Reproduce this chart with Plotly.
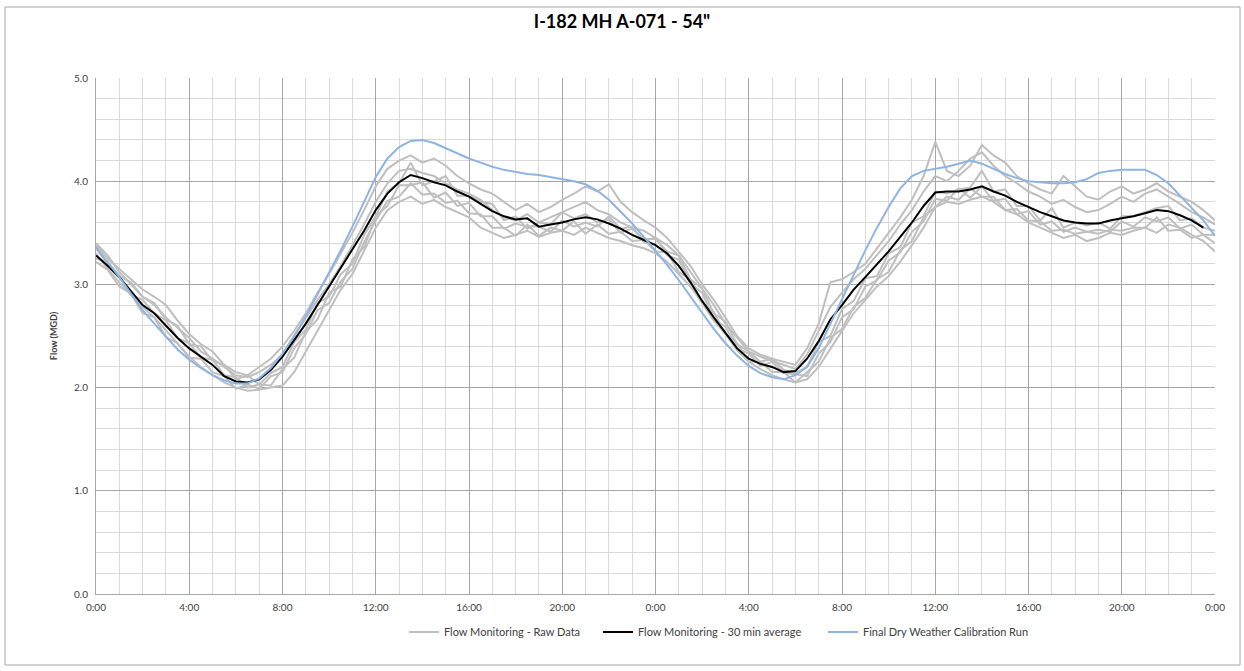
import plotly.graph_objects as go

# ---------------- data ----------------
hours_30 = [i * 0.5 for i in range(97)]          # 0:00 .. 48:00 every 30 min
tick_vals = [0, 4, 8, 12, 16, 20, 24, 28, 32, 36, 40, 44, 48]
tick_text = ["0:00", "4:00", "8:00", "12:00", "16:00", "20:00", "0:00",
             "4:00", "8:00", "12:00", "16:00", "20:00", "0:00"]

raw_a = [3.38, 3.25, 3.15, 3.05, 2.95, 2.88, 2.80, 2.65,
         2.52, 2.42, 2.35, 2.22, 2.15, 2.12, 2.20, 2.28,
         2.40, 2.55, 2.72, 2.92, 3.10, 3.30, 3.50, 3.72,
         3.95, 4.12, 4.20, 4.25, 4.18, 4.22, 4.15, 4.05,
         3.98, 3.92, 3.88, 3.80, 3.72, 3.78, 3.70, 3.75,
         3.82, 3.88, 3.95, 3.90, 3.97, 3.80, 3.70, 3.62,
         3.55, 3.45, 3.32, 3.18, 3.00, 2.85, 2.68, 2.50,
         2.38, 2.32, 2.28, 2.25, 2.22, 2.38, 2.62, 3.02,
         3.05, 3.12, 3.20, 3.35, 3.50, 3.65, 3.82, 4.05,
         4.38, 4.10, 4.05, 4.15, 4.35, 4.25, 4.18, 4.05,
         3.98, 3.92, 3.88, 4.05, 3.95, 3.85, 3.82, 3.90,
         3.95, 3.88, 3.92, 3.98, 3.90, 3.85, 3.80, 3.72,
         3.62]
raw_b = [3.30, 3.15, 3.02, 2.90, 2.78, 2.68, 2.55, 2.42,
         2.30, 2.20, 2.12, 2.05, 2.00, 1.97, 1.98, 2.00,
         2.02, 2.15, 2.35, 2.55, 2.75, 2.95, 3.10, 3.32,
         3.55, 3.72, 3.80, 3.85, 3.78, 3.82, 3.75, 3.70,
         3.65, 3.55, 3.50, 3.45, 3.48, 3.52, 3.46, 3.50,
         3.52, 3.48, 3.55, 3.50, 3.45, 3.42, 3.38, 3.35,
         3.30, 3.22, 3.10, 2.98, 2.82, 2.65, 2.52, 2.36,
         2.25, 2.18, 2.12, 2.08, 2.05, 2.08, 2.20, 2.38,
         2.55, 2.72, 2.85, 2.98, 3.08, 3.22, 3.38, 3.55,
         3.75, 3.80, 3.78, 3.82, 3.85, 3.80, 3.72, 3.68,
         3.60, 3.55, 3.50, 3.45, 3.48, 3.42, 3.45, 3.50,
         3.48, 3.52, 3.55, 3.50, 3.58, 3.55, 3.48, 3.42,
         3.32]
raw_c = [3.25, 3.22, 3.08, 3.02, 2.88, 2.82, 2.66, 2.60,
         2.42, 2.40, 2.26, 2.22, 2.08, 2.12, 2.03, 2.14,
         2.20, 2.44, 2.56, 2.82, 2.88, 3.10, 3.20, 3.48,
         3.66, 3.90, 3.98, 4.18, 3.96, 4.00, 4.05, 3.86,
         3.86, 3.80, 3.78, 3.62, 3.66, 3.54, 3.60, 3.58,
         3.70, 3.64, 3.68, 3.60, 3.63, 3.50, 3.54, 3.44,
         3.44, 3.32, 3.28, 3.05, 2.96, 2.72, 2.64, 2.42,
         2.35, 2.25, 2.28, 2.17, 2.14, 2.20, 2.44, 2.50,
         2.76, 2.84, 3.06, 3.08, 3.30, 3.36, 3.60, 3.66,
         3.90, 3.88, 3.92, 3.94, 4.10, 3.90, 3.92, 3.76,
         3.76, 3.62, 3.74, 3.55, 3.60, 3.57, 3.60, 3.54,
         3.66, 3.66, 3.70, 3.74, 3.76, 3.62, 3.64, 3.55,
         3.52]
raw_d = [3.35, 3.20, 3.08, 2.90, 2.85, 2.72, 2.65, 2.48,
         2.43, 2.29, 2.27, 2.12, 2.10, 2.00, 2.03, 2.02,
         2.18, 2.29, 2.54, 2.66, 2.92, 2.98, 3.24, 3.36,
         3.66, 3.76, 3.96, 3.96, 3.99, 3.84, 3.89, 3.76,
         3.79, 3.66, 3.66, 3.54, 3.59, 3.56, 3.56, 3.51,
         3.62, 3.56, 3.60, 3.56, 3.66, 3.54, 3.56, 3.41,
         3.46, 3.28, 3.24, 3.01, 2.92, 2.66, 2.59, 2.38,
         2.33, 2.21, 2.25, 2.14, 2.13, 2.11, 2.33, 2.44,
         2.68, 2.76, 2.98, 3.04, 3.23, 3.31, 3.51, 3.61,
         3.83, 3.81, 3.93, 3.84, 3.95, 3.81, 3.83, 3.68,
         3.71, 3.58, 3.61, 3.51, 3.55, 3.51, 3.53, 3.51,
         3.61, 3.56, 3.65, 3.61, 3.65, 3.54, 3.58, 3.48,
         3.48]
raw_e = [3.40, 3.28, 3.12, 3.00, 2.88, 2.80, 2.68, 2.58,
         2.48, 2.35, 2.28, 2.20, 2.12, 2.10, 2.15, 2.22,
         2.32, 2.50, 2.68, 2.85, 3.00, 3.18, 3.38, 3.58,
         3.80, 3.98, 4.10, 4.12, 4.08, 4.05, 3.98, 3.92,
         3.88, 3.82, 3.72, 3.65, 3.62, 3.68, 3.60, 3.65,
         3.70, 3.75, 3.80, 3.72, 3.68, 3.60, 3.55, 3.52,
         3.45, 3.38, 3.28, 3.12, 2.95, 2.80, 2.62, 2.48,
         2.35, 2.30, 2.26, 2.22, 2.18, 2.32, 2.55, 2.78,
         2.92, 3.05, 3.15, 3.28, 3.42, 3.58, 3.72, 3.90,
         4.05, 4.00, 4.10, 4.22, 4.28, 4.15, 4.05, 3.98,
         3.90, 3.85, 3.78, 3.82, 3.75, 3.70, 3.72, 3.78,
         3.85, 3.80, 3.88, 3.92, 3.85, 3.78, 3.70, 3.65,
         3.58]
raw_f = [3.22, 3.14, 2.98, 2.91, 2.72, 2.68, 2.49, 2.43,
         2.29, 2.28, 2.15, 2.11, 1.99, 2.03, 1.99, 2.11,
         2.15, 2.38, 2.52, 2.75, 2.82, 3.03, 3.15, 3.41,
         3.62, 3.81, 3.85, 3.98, 3.87, 3.88, 3.79, 3.81,
         3.69, 3.68, 3.55, 3.55, 3.47, 3.58, 3.47, 3.55,
         3.52, 3.61, 3.49, 3.58, 3.49, 3.51, 3.42, 3.43,
         3.32, 3.31, 3.12, 3.05, 2.82, 2.73, 2.52, 2.43,
         2.25, 2.25, 2.15, 2.15, 2.05, 2.15, 2.25, 2.48,
         2.57, 2.78, 2.87, 3.05, 3.12, 3.33, 3.42, 3.65,
         3.75, 3.85, 3.82, 3.93, 3.85, 3.85, 3.72, 3.73,
         3.62, 3.61, 3.52, 3.53, 3.49, 3.51, 3.49, 3.53,
         3.52, 3.55, 3.55, 3.65, 3.52, 3.53, 3.45, 3.48,
         3.40]
raw_series = [raw_a, raw_b, raw_c, raw_d, raw_e, raw_f]

avg_hours = [i * 0.5 for i in range(96)]          # 0:00 .. 47:30
avg_30min = [3.28, 3.18, 3.07, 2.94, 2.80, 2.72, 2.60, 2.48,
             2.38, 2.30, 2.22, 2.11, 2.06, 2.05, 2.08, 2.17,
             2.30, 2.46, 2.62, 2.80, 2.98, 3.15, 3.33, 3.52,
             3.72, 3.88, 3.99, 4.06, 4.03, 3.99, 3.96, 3.90,
             3.85, 3.78, 3.71, 3.66, 3.63, 3.64, 3.56, 3.58,
             3.60, 3.63, 3.65, 3.63, 3.59, 3.54, 3.48, 3.43,
             3.38, 3.30, 3.18, 3.02, 2.84, 2.68, 2.53, 2.38,
             2.28, 2.23, 2.20, 2.15, 2.16, 2.28, 2.45, 2.66,
             2.80, 2.95, 3.07, 3.19, 3.32, 3.46, 3.60, 3.76,
             3.89, 3.90, 3.90, 3.92, 3.95, 3.90, 3.86, 3.80,
             3.75, 3.70, 3.66, 3.62, 3.60, 3.59, 3.59, 3.62,
             3.64, 3.66, 3.69, 3.72, 3.71, 3.67, 3.62, 3.55]

calibration = [3.36, 3.22, 3.07, 2.91, 2.75, 2.62, 2.49, 2.37,
               2.27, 2.19, 2.12, 2.07, 2.04, 2.04, 2.09, 2.19,
               2.33, 2.50, 2.69, 2.90, 3.11, 3.33, 3.56, 3.80,
               4.04, 4.22, 4.33, 4.39, 4.40, 4.37, 4.32, 4.27,
               4.22, 4.18, 4.14, 4.11, 4.09, 4.07, 4.06, 4.04,
               4.02, 4.00, 3.97, 3.91, 3.82, 3.71, 3.59, 3.46,
               3.33, 3.19, 3.04, 2.88, 2.72, 2.57, 2.43, 2.31,
               2.21, 2.14, 2.10, 2.08, 2.12, 2.20, 2.38, 2.62,
               2.85, 3.10, 3.33, 3.55, 3.75, 3.93, 4.05, 4.10,
               4.12, 4.14, 4.17, 4.20, 4.17, 4.12, 4.07, 4.03,
               4.00, 3.99, 3.98, 3.98, 3.99, 4.02, 4.08, 4.10,
               4.11, 4.11, 4.11, 4.06, 3.98, 3.86, 3.74, 3.62,
               3.47]

# ---------------- figure ----------------
W, H = 1244, 671
L, R, T, B = 96, 29, 78, 77
pw, ph = W - L - R, H - T - B

FONT = "Lato, Carlito, Calibri, 'Open Sans', sans-serif"
GREY = "#BFBFBF"
BLUE = "#8EB4E3"


def px_x(px):
    return (px - L) / pw


def px_y(py):
    return (H - B - py) / ph


fig = go.Figure()
for i, ys in enumerate(raw_series):
    fig.add_trace(go.Scatter(
        x=hours_30, y=ys, mode="lines",
        line=dict(color=GREY, width=2),
        name="Flow Monitoring - Raw Data",
        legendgroup="raw", showlegend=(i == 0), legend="legend",
    ))
fig.add_trace(go.Scatter(
    x=avg_hours, y=avg_30min, mode="lines",
    line=dict(color="#000000", width=2),
    name="Flow Monitoring - 30 min average", legend="legend2",
))
fig.add_trace(go.Scatter(
    x=hours_30, y=calibration, mode="lines",
    line=dict(color=BLUE, width=2),
    name="Final Dry Weather Calibration Run", legend="legend3",
))

fig.add_shape(type="rect", xref="paper", yref="paper",
              x0=px_x(5), x1=px_x(1240), y0=px_y(665), y1=px_y(7),
              line=dict(color="#A6A6A6", width=1), layer="below")

leg_common = dict(orientation="h", xanchor="left", yanchor="middle",
                  y=px_y(632), font=dict(size=11, color="#404040"),
                  bgcolor="rgba(0,0,0,0)", itemwidth=30)

fig.update_layout(
    width=W, height=H,
    margin=dict(l=L, r=R, t=T, b=B),
    paper_bgcolor="white", plot_bgcolor="white",
    font=dict(family=FONT, size=10, color="#404040"),
    title=dict(text="<b>I-182 MH A-071 - 54\"</b>", x=0.5, xref="container",
               xanchor="center", y=1 - 22 / H, yref="container",
               yanchor="middle", font=dict(size=18, color="#000000", family=FONT)),
    showlegend=True,
    legend=dict(x=px_x(411 - 7), **leg_common),
    legend2=dict(x=px_x(605 - 7), **leg_common),
    legend3=dict(x=px_x(830 - 7), **leg_common),
    hovermode=False,
)
fig.update_xaxes(
    range=[0, 48], tickvals=tick_vals, ticktext=tick_text,
    showgrid=True, gridcolor="#A6A6A6", gridwidth=1,
    minor=dict(dtick=1, showgrid=True, gridcolor="#D9D9D9", gridwidth=1),
    showline=True, linecolor="#A6A6A6", linewidth=1, mirror=False,
    ticks="", zeroline=False, tickfont=dict(size=10, color="#404040"),
    ticklabelstandoff=4,
)
fig.update_yaxes(
    range=[0, 5], dtick=1, tickformat=".1f",
    showgrid=True, gridcolor="#A6A6A6", gridwidth=1,
    minor=dict(dtick=0.2, showgrid=True, gridcolor="#D9D9D9", gridwidth=1),
    showline=True, linecolor="#A6A6A6", linewidth=1,
    ticks="", zeroline=False, tickfont=dict(size=10, color="#404040"),
    ticklabelstandoff=5,
    title=dict(text="<b>Flow (MGD)</b>", font=dict(size=9, color="#404040"), standoff=14),
)

fig.write_html("out.html", config={"displayModeBar": False},
               post_script="document.body.style.margin='0';document.body.style.overflow='hidden';")
